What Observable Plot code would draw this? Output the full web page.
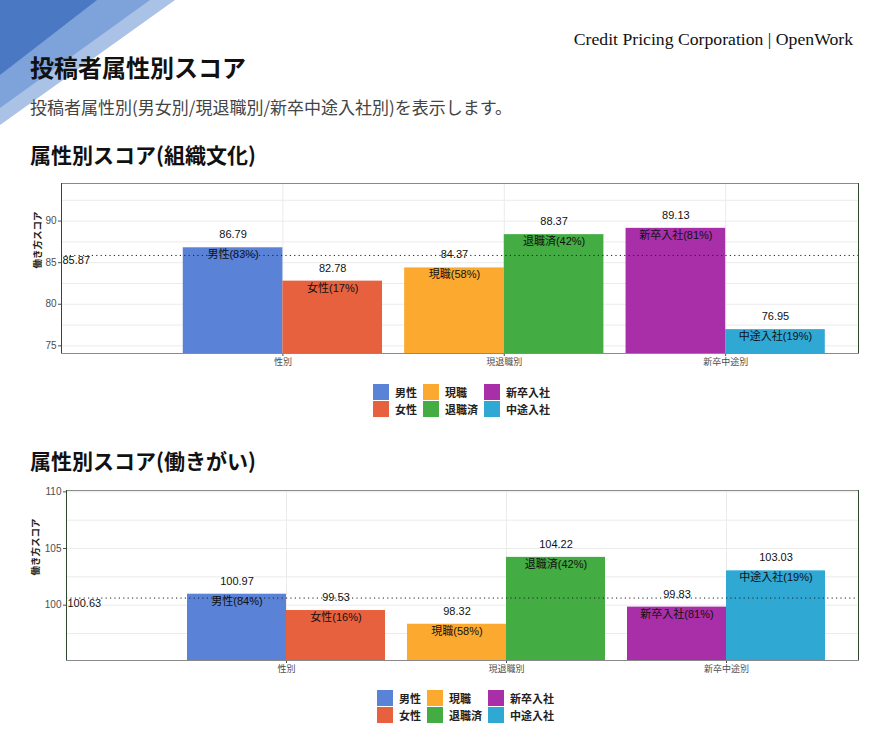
<!DOCTYPE html>
<html>
<head>
<meta charset="utf-8">
<script src="https://cdn.jsdelivr.net/npm/d3@7"></script>
<script src="https://cdn.jsdelivr.net/npm/@observablehq/plot@0.6"></script>
<style>
  html, body { margin: 0; padding: 0; background: #fff; }
  body { width: 880px; height: 740px; position: relative; overflow: hidden;
         font-family: "Liberation Sans", "Noto Sans CJK JP", sans-serif; }
  .abs { position: absolute; white-space: nowrap; }
  .title { left: 30px; top: 53px; font: bold 24px/27px "Noto Sans CJK JP", sans-serif; color: #111; }
  .subtitle { left: 30px; top: 96px; font: 17px/21px "Noto Sans CJK JP", sans-serif; color: #444; }
  .credit { right: 27px; top: 28px; font: 17.7px/22px "Liberation Serif", serif; color: #111; }
  .section { left: 30px; font: bold 21px/25px "Noto Sans CJK JP", sans-serif; color: #111; }
  .legend { display: grid; grid-template-rows: 16px 16px; grid-auto-flow: column; row-gap: 1px; column-gap: 6px; }
  .item { display: flex; align-items: center; font: bold 11px/16px "Noto Sans CJK JP", sans-serif; color: #222; }
  .sw { width: 16px; height: 16px; margin-right: 6px; }
</style>
</head>
<body>
<svg class="abs" style="left:0;top:0" width="200" height="140">
  <polygon points="0,0 175,0 0,125" fill="#aac2e6"></polygon>
  <polygon points="0,0 150,0 0,108" fill="#7ea3da"></polygon>
  <polygon points="0,0 97,0 0,75" fill="#4b78c2"></polygon>
</svg>
<div class="abs credit">Credit Pricing Corporation | OpenWork</div>
<div class="abs title">投稿者属性別スコア</div>
<div class="abs subtitle">投稿者属性別(男女別/現退職別/新卒中途入社別)を表示します。</div>
<div class="abs section" style="top:142px">属性別スコア(組織文化)</div>
<div class="abs" id="chart1" style="left:0;top:170px"></div>
<div class="abs legend" id="legend1" style="left:373px;top:384px"></div>
<div class="abs section" style="top:448px">属性別スコア(働きがい)</div>
<div class="abs" id="chart2" style="left:0;top:477px"></div>
<div class="abs legend" id="legend2" style="left:377px;top:690px"></div>
<script>
// ---- data ----
const groups = ["性別", "現退職別", "新卒中途別"];
const names = ["男性", "女性", "現職", "退職済", "新卒入社", "中途入社"];
const colors = ["#5a82d6", "#e8613f", "#fbaa2f", "#43ac42", "#a82fa8", "#2fa8d4"];

const cultureValues = [86.79, 82.78, 84.37, 88.37, 89.13, 76.95];
const cultureShares = [83, 17, 58, 42, 81, 19];
const cultureMean = 85.87;
const cultureDomain = [74.08, 94.52];
const cultureTicks = [75, 80, 85, 90];
const cultureGrid = [75, 77.5, 80, 82.5, 85, 87.5, 90, 92.5];

const rewardValues = [100.97, 99.53, 98.32, 104.22, 99.83, 103.03];
const rewardShares = [84, 16, 58, 42, 81, 19];
const rewardMean = 100.63;
const rewardDomain = [95.12, 110.12];
const rewardTicks = [100, 105, 110];
const rewardGrid = [97.5, 100, 102.5, 105, 107.5, 110];

const yTitle = "働き方スコア";
const xDomain = [0, 3.6];

function makeChart(values, shares, mean, domain, ticks, grid, marginLeft, titleDx) {
  const data = names.map((n, i) => ({
    name: n, gi: Math.floor(i / 2) + 1, side: i % 2,
    value: values[i], label: `${n}(${shares[i]}%)`
  }));
  const xc = d => d.gi - 0.225 + d.side * 0.45;
  return Plot.plot({
    width: 880, height: 200,
    marginLeft, marginRight: 22, marginTop: 13, marginBottom: 17,
    style: { fontFamily: "'Liberation Sans', 'Noto Sans CJK JP', sans-serif", background: "transparent" },
    x: { domain: xDomain, axis: null },
    y: { domain, axis: null },
    color: { domain: names, range: colors },
    marks: [
      Plot.ruleY(grid, { stroke: "#ebebeb", strokeWidth: 1 }),
      Plot.ruleX([1, 2, 3], { stroke: "#ebebeb", strokeWidth: 1 }),
      Plot.rect(data, {
        x1: d => d.gi - 0.45 + d.side * 0.45,
        x2: d => d.gi + d.side * 0.45,
        y1: () => domain[0], y2: "value", fill: "name"
      }),
      Plot.ruleY([mean], { stroke: "#222", strokeDasharray: "1.2,3.2", strokeWidth: 1 }),
      Plot.text([mean], { x: () => xDomain[0], y: d => d, text: d => d.toFixed(2), textAnchor: "start", dx: 1, dy: 5, fontSize: 11, fill: "#111" }),
      Plot.text(data, { x: xc, y: "value", text: d => d.value.toFixed(2), dy: -13, fontSize: 11, fill: "#111" }),
      Plot.text(data, { x: xc, y: "value", text: "label", dy: 7, fontSize: 11, fill: "#111" }),
      Plot.axisY(ticks, { tickSize: 3, tickPadding: 2, fontSize: 10, color: "#4d4d4d", label: null }),
      Plot.axisX([1, 2, 3], { tickSize: 3, tickPadding: 2, fontSize: 9, color: "#4d4d4d", tickFormat: d => groups[d - 1], label: null }),
      Plot.text([yTitle], { frameAnchor: "left", text: d => d, rotate: -90, dx: titleDx, fontSize: 9.5, fontWeight: "bold", fill: "#222" }),
      Plot.frame({ stroke: "#8a8a8a" }),
      Plot.ruleX(xDomain, { stroke: "#2f4a2f", strokeWidth: 1 })
    ]
  });
}

function makeLegend(el) {
  names.forEach((n, i) => {
    const it = document.createElement("div");
    it.className = "item";
    const sw = document.createElement("span");
    sw.className = "sw";
    sw.style.background = colors[i];
    it.appendChild(sw);
    it.appendChild(document.createTextNode(n));
    el.appendChild(it);
  });
}

document.getElementById("chart1").appendChild(
  makeChart(cultureValues, cultureShares, cultureMean, cultureDomain, cultureTicks, cultureGrid, 61, -24));
document.getElementById("chart2").appendChild(
  makeChart(rewardValues, rewardShares, rewardMean, rewardDomain, rewardTicks, rewardGrid, 66, -31));
makeLegend(document.getElementById("legend1"));
makeLegend(document.getElementById("legend2"));
</script>
</body>
</html>
